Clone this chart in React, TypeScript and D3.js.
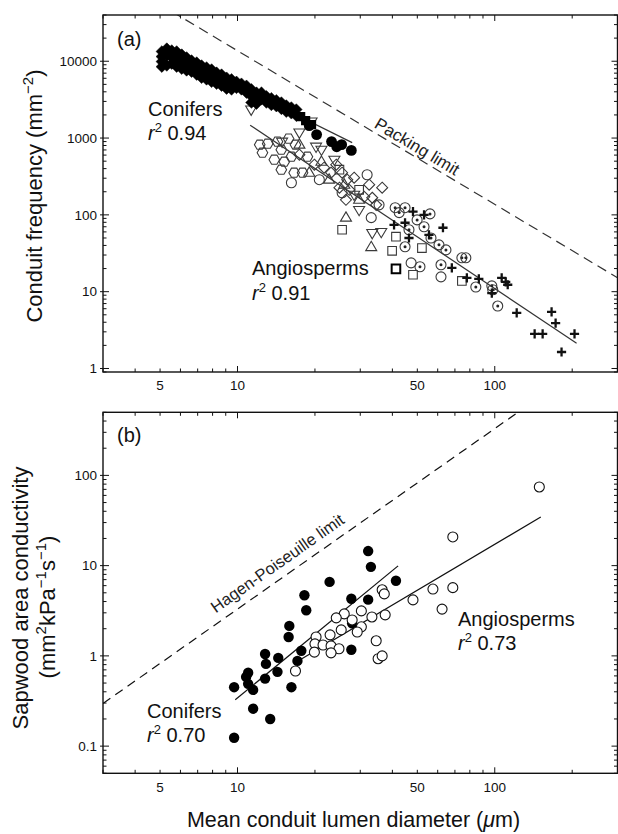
import React from "react";
import * as d3 from "d3";

// ---------- Panel (a): conduit frequency vs diameter ----------
const coniferDiamonds: [number, number][] = [
  [5.08, 13400], [5.08, 11500], [5.08, 9900], [5.08, 8500],
  [5.31, 14600], [5.31, 11900], [5.31, 8800],
  [5.55, 13800], [5.55, 11200], [5.55, 9300],
  [5.8, 13400], [5.8, 10500], [5.8, 8500],
  [6.07, 12200], [6.07, 9900], [6.07, 8000],
  [6.34, 11200], [6.34, 9300], [6.34, 7600],
  [6.63, 10200], [6.63, 8500], [6.63, 7300],
  [6.94, 9600], [6.94, 7800], [6.94, 6700],
  [7.25, 8800], [7.25, 7300], [7.25, 6100],
  [7.58, 8300], [7.58, 6900], [7.58, 5800],
  [7.93, 7800], [7.93, 6300], [7.93, 5400],
  [8.29, 7100], [8.29, 5950], [8.29, 5100],
  [8.67, 6700], [8.67, 5600], [8.67, 4800],
  [9.07, 6100], [9.07, 5100], [9.07, 4400],
  [9.48, 5800], [9.48, 4800], [9.48, 4300],
  [9.91, 5400], [9.91, 4500],
  [10.36, 5100], [10.36, 4300],
  [10.84, 4800], [10.84, 3900],
  [11.33, 4300], [11.33, 3500], [11.33, 2900],
  [11.85, 3900], [11.85, 3200], [11.85, 2800],
  [12.39, 3900], [12.39, 3200],
  [12.95, 3500], [12.95, 2900],
  [13.54, 3300], [13.54, 2700],
  [14.16, 3100], [14.16, 2600],
  [14.81, 2900], [14.81, 2400],
  [15.48, 2650], [15.48, 2200],
  [16.19, 2500], [16.19, 2100],
  [16.93, 2350], [16.93, 1950],
];
const coniferSquares: [number, number][] = [[17.6, 1900], [18.4, 1690], [19.4, 1500]];
const coniferCircles: [number, number][] = [
  [19.0, 1450], [20.3, 1110], [23.2, 900], [24.3, 770], [25.4, 820], [27.7, 690],
];

const angioHexagons: [number, number][] = [
  [12.2, 820], [13.1, 845], [12.5, 645], [14.3, 898], [15.8, 982], [14.8, 706], [16.2, 572],
  [14.8, 387], [16.6, 354], [17.9, 354], [18.7, 572], [13.9, 523], [16.8, 820], [15.2, 492],
];
const angioCircles: [number, number][] = [
  [16.2, 262], [20.8, 287], [31.9, 333], [25.5, 194], [33.1, 92], [47.3, 23.7], [61.8, 15.6], [35.5, 135],
];
const angioDiamonds: [number, number][] = [
  [24.2, 450], [25.5, 354], [26.7, 287], [28.4, 305], [23.1, 354], [24.9, 226], [27.2, 212], [36.5, 226],
  [32.5, 247], [33.4, 167], [31.1, 172], [34.6, 135], [26.4, 157], [21.7, 411], [17.4, 608], [19.9, 450],
];
const angioTriDown: [number, number][] = [
  [11.3, 2350], [17.4, 1180], [20.2, 773], [33.4, 58], [36.2, 60], [21.2, 706], [23.8, 523],
  [28.4, 183], [29.7, 116], [19.4, 1640], [14.9, 898],
];
const angioTriUp: [number, number][] = [
  [26.4, 92], [33.1, 38], [19.0, 354], [17.4, 820], [21.2, 492], [22.7, 287], [26.0, 247], [29.7, 157],
];
const angioSquares: [number, number][] = [
  [25.5, 64], [39.9, 34], [41.3, 52], [48.1, 16.6], [74.5, 13.8], [52.1, 37], [24.9, 387], [29.7, 212],
];
const angioBoldSquares: [number, number][] = [[41.3, 19.8]];
const angioDotCircles: [number, number][] = [
  [41.0, 124], [44.8, 124], [56.0, 103], [53.1, 70], [56.5, 50], [64.6, 35], [74.5, 27.6], [77.2, 27.6],
  [84.4, 11.5], [97.4, 11.9], [98.2, 10.6], [102.7, 6.5], [51.2, 21.1], [61.8, 22.4], [44.8, 38.4],
  [42.5, 107], [49.9, 86], [46.4, 64], [60.7, 40.7],
];
const angioPluses: [number, number][] = [
  [48.1, 110], [62.9, 68], [44.8, 79], [68.1, 20.4], [77.9, 15.1], [86.7, 14.7], [97.4, 9.6],
  [106.4, 15.1], [110.3, 13.4], [112.3, 12.3], [121.7, 5.3], [166.3, 5.45], [172.4, 3.9],
  [142.9, 2.82], [153.5, 2.82], [204.2, 2.82], [181.8, 1.64], [46.4, 50], [53.1, 100], [40.6, 74], [55.5, 55],
];
const coniferFitA: [number, number][] = [[5.2, 14300], [27.9, 871]];
const angioFitA: [number, number][] = [[11.2, 1470], [208, 2.13]];
const packingConstant = 1.37e6; // F = k / D^2

// ---------- Panel (b): sapwood area conductivity ----------
const conifersB: [number, number][] = [
  [32.2, 14.5], [33.0, 9.7], [22.8, 6.6], [41.3, 6.8], [18.2, 4.7], [18.5, 3.2], [27.7, 4.3], [32.2, 4.2],
  [15.9, 2.15], [15.8, 1.62], [12.8, 1.05], [14.4, 0.95], [12.9, 0.815], [17.7, 1.14], [17.1, 0.88],
  [14.3, 0.665], [12.8, 0.56], [11.0, 0.65], [10.8, 0.585], [11.0, 0.49], [9.7, 0.45], [11.5, 0.42],
  [16.2, 0.45], [11.5, 0.26], [13.4, 0.2], [9.7, 0.124], [27.9, 2.3], [27.7, 1.17],
];
const angiospermsB: [number, number][] = [
  [68.7, 20.8], [149, 74.4], [57.5, 5.5], [68.7, 5.7], [48.1, 4.17], [62.4, 3.3], [36.5, 5.4], [37.2, 4.86],
  [37.5, 2.85], [33.3, 2.7], [30.3, 3.15], [26.0, 2.92], [24.2, 2.64], [27.9, 2.5], [30.3, 2.1], [29.2, 1.84],
  [25.3, 1.94], [22.9, 1.71], [20.2, 1.62], [20.0, 1.36], [21.5, 1.32], [23.1, 1.29], [24.8, 1.2], [23.1, 1.08],
  [19.9, 1.1], [34.6, 1.47], [35.2, 0.93], [36.5, 1.0], [16.8, 0.68],
];
const coniferFitB: [number, number][] = [[9.8, 0.326], [42.1, 9.93]];
const angioFitB: [number, number][] = [[17, 0.86], [151, 34.6]];
const hagenConstant = 0.033; // K = c * D^2

// ---------- tick labels ----------
const xTickLabels = [5, 10, 50, 100];
const yTickLabelsA = [1, 10, 100, 1000, 10000];
const yTickLabelsB = [0.1, 1, 10, 100];

const FONT = "'Liberation Sans', Arial, Helvetica, sans-serif";
const BOXA = { left: 103, right: 617.5, top: 15, bottom: 372 };
const BOXB = { left: 103, right: 617.5, top: 412.3, bottom: 773.3 };

function shape(type: string, s: number): string {
  switch (type) {
    case "diamond":
      return `M0,${-s}L${s},0L0,${s}L${-s},0Z`;
    case "square":
      return `M${-s},${-s}H${s}V${s}H${-s}Z`;
    case "triUp":
      return `M0,${-s}L${s * 0.95},${s * 0.6}L${-s * 0.95},${s * 0.6}Z`;
    case "triDown":
      return `M0,${s}L${s * 0.95},${-s * 0.6}L${-s * 0.95},${-s * 0.6}Z`;
    case "hex": {
      const p = d3.range(6).map((i) => {
        const a = (Math.PI / 3) * i;
        return `${(s * Math.cos(a)).toFixed(2)},${(s * Math.sin(a)).toFixed(2)}`;
      });
      return "M" + p.join("L") + "Z";
    }
    case "plus":
      return `M${-s},0H${s}M0,${-s}V${s}`;
    default:
      return "";
  }
}

function fmt(v: number) {
  return String(v);
}

function Frame({ x, y, box, labels, labelY }: any) {
  const xt = x.ticks();
  const yt = y.ticks();
  const isMajor = (v: number) => Math.abs(Math.log10(v) - Math.round(Math.log10(v))) < 1e-6;
  return (
    <g>
      <rect x={box.left} y={box.top} width={box.right - box.left} height={box.bottom - box.top} fill="none" stroke="#111" strokeWidth={1.4} />
      {xt.map((v: number, i: number) => {
        const len = isMajor(v) ? 6 : 3.5;
        const px = x(v);
        return (
          <g key={"x" + i}>
            <line x1={px} x2={px} y1={box.bottom} y2={box.bottom - len} stroke="#111" strokeWidth={1} />
            <line x1={px} x2={px} y1={box.top} y2={box.top + len} stroke="#111" strokeWidth={1} />
          </g>
        );
      })}
      {yt.map((v: number, i: number) => {
        const maj = isMajor(v);
        const len = maj ? 6 : 3.5;
        const py = y(v);
        return (
          <g key={"y" + i}>
            <line x1={box.left - (maj ? 3 : 0)} x2={box.left + len} y1={py} y2={py} stroke="#111" strokeWidth={1} />
            <line x1={box.right} x2={box.right - len} y1={py} y2={py} stroke="#111" strokeWidth={1} />
          </g>
        );
      })}
      {xTickLabels.map((v) => (
        <text key={"xl" + v} x={x(v)} y={labelY} textAnchor="middle" fontSize={13.5} fill="#111">
          {fmt(v)}
        </text>
      ))}
      {labels.map((v: number) => (
        <text key={"yl" + v} x={97} y={y(v) + 4.8} textAnchor="end" fontSize={13.5} fill="#111">
          {fmt(v)}
        </text>
      ))}
    </g>
  );
}

function R2({ x, y, value }: { x: number; y: number; value: string }) {
  return (
    <text x={x} y={y} fontSize={20} fill="#111">
      <tspan fontStyle="italic">r</tspan>
      <tspan dy={-8} fontSize={13}>2</tspan>
      <tspan dy={8}> {value}</tspan>
    </text>
  );
}

export default function App() {
  const x = d3.scaleLog().domain([3, 300]).range([BOXA.left, BOXA.right]);
  const yA = d3.scaleLog().domain([0.9, 40000]).range([BOXA.bottom, BOXA.top]);
  const yB = d3.scaleLog().domain([0.05, 500]).range([BOXB.bottom, BOXB.top]);

  const lineA = d3.line<[number, number]>().x((d) => x(d[0])).y((d) => yA(d[1]));
  const lineB = d3.line<[number, number]>().x((d) => x(d[0])).y((d) => yB(d[1]));

  const packing: [number, number][] = [3, 300].map((D) => [D, packingConstant / (D * D)]);
  const hagen: [number, number][] = [3, 300].map((D) => [D, hagenConstant * D * D]);

  // label placement along limit lines
  const pAng = Math.atan2(yA(packing[1][1]) - yA(packing[0][1]), x(300) - x(3));
  const pD = 47.7;
  const pX = x(pD) + 4 * Math.sin(pAng);
  const pY = yA(packingConstant / (pD * pD)) - 4 * Math.cos(pAng);
  const hAng = Math.atan2(yB(hagen[1][1]) - yB(hagen[0][1]), x(300) - x(3));
  const hD = 15.4;
  const hX = x(hD) + 9 * Math.sin(hAng);
  const hY = yB(hagenConstant * hD * hD) - 9 * Math.cos(hAng);

  const openStroke = "#3a3a3a";

  const marks = (data: [number, number][], type: string, s: number, props: any, y: any) =>
    data.map((d, i) => (
      <path key={type + i} d={shape(type, s)} transform={`translate(${x(d[0])},${y(d[1])})`} {...props} />
    ));

  return (
    <svg width={618} height={834} style={{ position: "absolute", left: 0, top: 0, background: "#fff" }} fontFamily={FONT}>
      <defs>
        <clipPath id="clipA">
          <rect x={BOXA.left} y={BOXA.top} width={BOXA.right - BOXA.left} height={BOXA.bottom - BOXA.top} />
        </clipPath>
        <clipPath id="clipB">
          <rect x={BOXB.left} y={BOXB.top} width={BOXB.right - BOXB.left} height={BOXB.bottom - BOXB.top} />
        </clipPath>
      </defs>
      <rect x={0} y={0} width={618} height={834} fill="#fff" />

      {/* ---------- Panel (a) ---------- */}
      <g clipPath="url(#clipA)">
        <path d={lineA(packing) || ""} fill="none" stroke="#333" strokeWidth={1.2} strokeDasharray="10,6" />
        <path d={lineA(angioFitA) || ""} fill="none" stroke="#333" strokeWidth={1.2} />
        <path d={lineA(coniferFitA) || ""} fill="none" stroke="#333" strokeWidth={1.2} />
        {marks(angioHexagons, "hex", 5.3, { fill: "none", stroke: openStroke, strokeWidth: 1.1 }, yA)}
        {marks(angioDiamonds, "diamond", 5.5, { fill: "none", stroke: openStroke, strokeWidth: 1.1 }, yA)}
        {marks(angioTriDown, "triDown", 5.8, { fill: "none", stroke: openStroke, strokeWidth: 1.1 }, yA)}
        {marks(angioTriUp, "triUp", 5.8, { fill: "none", stroke: openStroke, strokeWidth: 1.1 }, yA)}
        {marks(angioSquares, "square", 4.3, { fill: "none", stroke: openStroke, strokeWidth: 1.1 }, yA)}
        {marks(angioBoldSquares, "square", 4.3, { fill: "none", stroke: "#000", strokeWidth: 2 }, yA)}
        {angioCircles.map((d, i) => (
          <circle key={"ac" + i} cx={x(d[0])} cy={yA(d[1])} r={5} fill="none" stroke={openStroke} strokeWidth={1.1} />
        ))}
        {angioDotCircles.map((d, i) => (
          <g key={"adc" + i}>
            <circle cx={x(d[0])} cy={yA(d[1])} r={5} fill="none" stroke={openStroke} strokeWidth={1.1} />
            <circle cx={x(d[0])} cy={yA(d[1])} r={1.5} fill="#222" />
          </g>
        ))}
        {marks(angioPluses, "plus", 4.6, { fill: "none", stroke: "#111", strokeWidth: 2.3 }, yA)}
        {marks(coniferDiamonds, "diamond", 5.8, { fill: "#000", stroke: "#000", strokeWidth: 0.5 }, yA)}
        {marks(coniferSquares, "square", 4.6, { fill: "#000" }, yA)}
        {coniferCircles.map((d, i) => (
          <circle key={"cc" + i} cx={x(d[0])} cy={yA(d[1])} r={5.4} fill="#000" />
        ))}
      </g>
      <Frame x={x} y={yA} box={BOXA} labels={yTickLabelsA} labelY={390} />
      <text x={117} y={46} fontSize={20} fill="#111">(a)</text>
      <text x={148} y={116} fontSize={20} fill="#111">Conifers</text>
      <R2 x={148} y={140} value="0.94" />
      <text x={252} y={275} fontSize={20} fill="#111">Angiosperms</text>
      <R2 x={252} y={300} value="0.91" />
      <text
        x={pX}
        y={pY}
        fontSize={17}
        fill="#222"
        textAnchor="middle"
        transform={`rotate(${(pAng * 180) / Math.PI},${pX},${pY})`}
      >
        Packing limit
      </text>
      <text x={42} y={196} fontSize={22} fill="#111" textAnchor="middle" transform="rotate(-90,42,196)">
        Conduit frequency (mm<tspan dy={-9} fontSize={15}>−2</tspan>
        <tspan dy={9}>)</tspan>
      </text>

      {/* ---------- Panel (b) ---------- */}
      <g clipPath="url(#clipB)">
        <path d={lineB(hagen) || ""} fill="none" stroke="#111" strokeWidth={1.2} strokeDasharray="9,6" />
        <path d={lineB(coniferFitB) || ""} fill="none" stroke="#111" strokeWidth={1.2} />
        <path d={lineB(angioFitB) || ""} fill="none" stroke="#111" strokeWidth={1.2} />
        {conifersB.map((d, i) => (
          <circle key={"cb" + i} cx={x(d[0])} cy={yB(d[1])} r={5.2} fill="#000" />
        ))}
        {angiospermsB.map((d, i) => (
          <circle key={"ab" + i} cx={x(d[0])} cy={yB(d[1])} r={5} fill="#fff" stroke="#111" strokeWidth={1.1} />
        ))}
      </g>
      <Frame x={x} y={yB} box={BOXB} labels={yTickLabelsB} labelY={792} />
      <text x={117} y={442} fontSize={20} fill="#111">(b)</text>
      <text x={147} y={718} fontSize={20} fill="#111">Conifers</text>
      <R2 x={147} y={742} value="0.70" />
      <text x={458} y={626} fontSize={20} fill="#111">Angiosperms</text>
      <R2 x={458} y={650} value="0.73" />
      <text
        x={hX}
        y={hY}
        fontSize={16.5}
        fill="#222"
        textAnchor="middle"
        transform={`rotate(${(hAng * 180) / Math.PI},${hX},${hY})`}
      >
        Hagen-Poiseuille limit
      </text>
      <text x={28} y={598} fontSize={22} fill="#111" textAnchor="middle" transform="rotate(-90,28,598)">
        Sapwood area conductivity
      </text>
      <text x={55} y={607} fontSize={22} fill="#111" textAnchor="middle" transform="rotate(-90,55,607)">
        (mm<tspan dy={-9} fontSize={15}>2</tspan>
        <tspan dy={9}>kPa</tspan>
        <tspan dy={-9} fontSize={15}>−1</tspan>
        <tspan dy={9}>s</tspan>
        <tspan dy={-9} fontSize={15}>−1</tspan>
        <tspan dy={9}>)</tspan>
      </text>

      <text x={353.5} y={827} fontSize={21.5} fill="#111" textAnchor="middle">
        Mean conduit lumen diameter (<tspan fontStyle="italic">μ</tspan>m)
      </text>
    </svg>
  );
}
